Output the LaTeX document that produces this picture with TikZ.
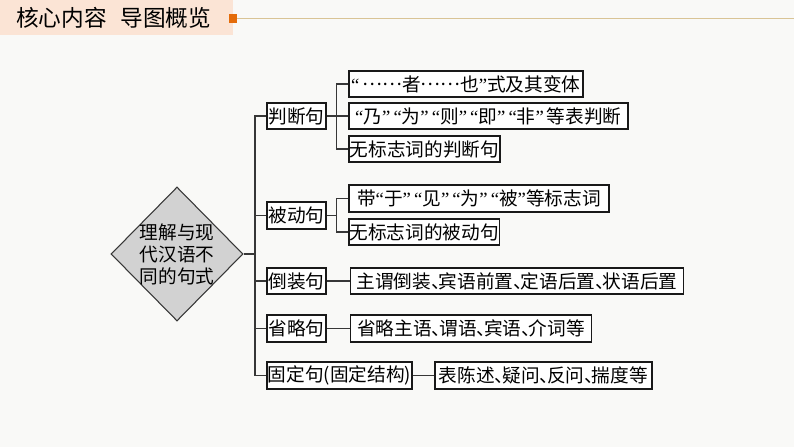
\documentclass[tikz,border=0pt]{standalone}
\usepackage{fontspec}
\setmainfont{Noto Sans CJK SC}
\newfontfamily\quotefont{Liberation Serif}
\usepackage{xcolor}
\usepackage{tikz}
\usetikzlibrary{positioning, shapes.geometric}
\definecolor{paper}{RGB}{249, 249, 247}
\definecolor{peach}{RGB}{251, 228, 213}
\definecolor{accent}{RGB}{228, 108, 10}
\definecolor{rule}{RGB}{217, 196, 150}
\definecolor{ink}{RGB}{25, 25, 25}
\definecolor{wire}{RGB}{55, 55, 55}
\definecolor{rootfill}{RGB}{210, 210, 210}
\newcommand{\oq}{{\quotefont “}}
\newcommand{\cq}{{\quotefont ”}}
\newcommand{\dunhao}{\makebox[0.4em][l]{、}}
\newcommand{\cdotsix}{\raisebox{0.3em}{……}}

\begin{document}
\begin{tikzpicture}[
    x=0.75pt, y=-0.75pt,
    box/.style = {rectangle, draw=ink, line width=1.3pt, fill=white,
                  font=\fontsize{14pt}{16pt}\selectfont,
                  minimum height=20pt, inner xsep=0.5pt, inner ysep=0pt},
    link/.style = {draw=wire, line width=0.9pt}
  ]
    % page and title bar
    \fill[paper] (0,0) rectangle (794,447);
    \useasboundingbox (0,0) rectangle (794,447);
    \fill[peach] (0,0) rectangle (233,35);
    \node[anchor=west, inner sep=0pt, font=\fontsize{17pt}{20pt}\selectfont] (title)
      at (16,18) {核心内容\hspace{0.6em}导图概览};
    \fill[accent] (229,14) rectangle (237,23);
    \draw[rule, line width=1.1pt] (237,18.5) -- (794,18.5);

    % root
    \node[diamond, draw=wire, line width=0.8pt, fill=rootfill,
          minimum width=99pt, minimum height=100.5pt, inner sep=0pt] (root) at (177,254) {};
    \node[align=center, inner sep=0pt, font=\fontsize{14pt}{16.5pt}\selectfont] (roottext)
      at (root.center) {理解与现\\代汉语不\\同的句式};

    % first level
    \node[box, anchor=west, minimum width=44.25pt] (pd) at (266,116) {判断句};
    \node[box, anchor=west, minimum width=44.25pt] (bd) at (266,215.5) {被动句};
    \node[box, anchor=west, minimum width=44.25pt] (dz) at (266,281) {倒装句};
    \node[box, anchor=west, minimum width=44.25pt] (sl) at (266,328.5) {省略句};
    \node[box, anchor=west, minimum width=108.75pt] (gd) at (266,375.5) {固定句(固定结构)};

    % second level
    \node[box, anchor=west, minimum width=175.5pt] (pd1) at (348,84)
      {\oq\,\cdotsix 者\cdotsix 也\cq 式及其变体};
    \node[box, anchor=west, minimum width=209.25pt] (pd2) at (348,116)
      {\oq 乃\cq\,\oq 为\cq\,\oq 则\cq\,\oq 即\cq\,\oq 非\cq\,等表判断};
    \node[box, anchor=west, minimum width=113.25pt] (pd3) at (348,149)
      {无标志词的判断句};
    \node[box, anchor=west, minimum width=195pt] (bd1) at (348,198.5)
      {带\oq 于\cq\,\oq 见\cq\,\oq 为\cq\,\oq 被\cq 等标志词};
    \node[box, anchor=west, minimum width=112.5pt] (bd2) at (348,232)
      {无标志词的被动句};
    \node[box, minimum width=249.75pt, right=17.25pt of dz] (dz1)
      {主谓倒装\dunhao 宾语前置\dunhao 定语后置\dunhao 状语后置};
    \node[box, minimum width=180.75pt, right=17.25pt of sl] (sl1)
      {省略主语\dunhao 谓语\dunhao 宾语\dunhao 介词等};
    \node[box, minimum width=162.75pt, right=16pt of gd] (gd1)
      {表陈述\dunhao 疑问\dunhao 反问\dunhao 揣度等};

    % connectors
    \coordinate (trunk) at (255,254);
    \coordinate (pdj) at (336.5,116);
    \coordinate (bdj) at (336.5,215.5);
    \draw[link] (root.east) -- (trunk) |- (pd.west);
    \draw[link] (trunk) |- (bd.west);
    \draw[link] (trunk) |- (dz.west);
    \draw[link] (trunk) |- (sl.west);
    \draw[link] (trunk) |- (gd.west);

    \draw[link] (pd.east) -- (pdj) |- (pd1.west);
    \draw[link] (pdj) -- (pd2.west);
    \draw[link] (pdj) |- (pd3.west);
    \draw[link] (bd.east) -- (bdj) |- (bd1.west);
    \draw[link] (bdj) |- (bd2.west);
    \draw[link] (dz) -- (dz1);
    \draw[link] (sl) -- (sl1);
    \draw[link] (gd) -- (gd1);
  \end{tikzpicture}
\end{document}
